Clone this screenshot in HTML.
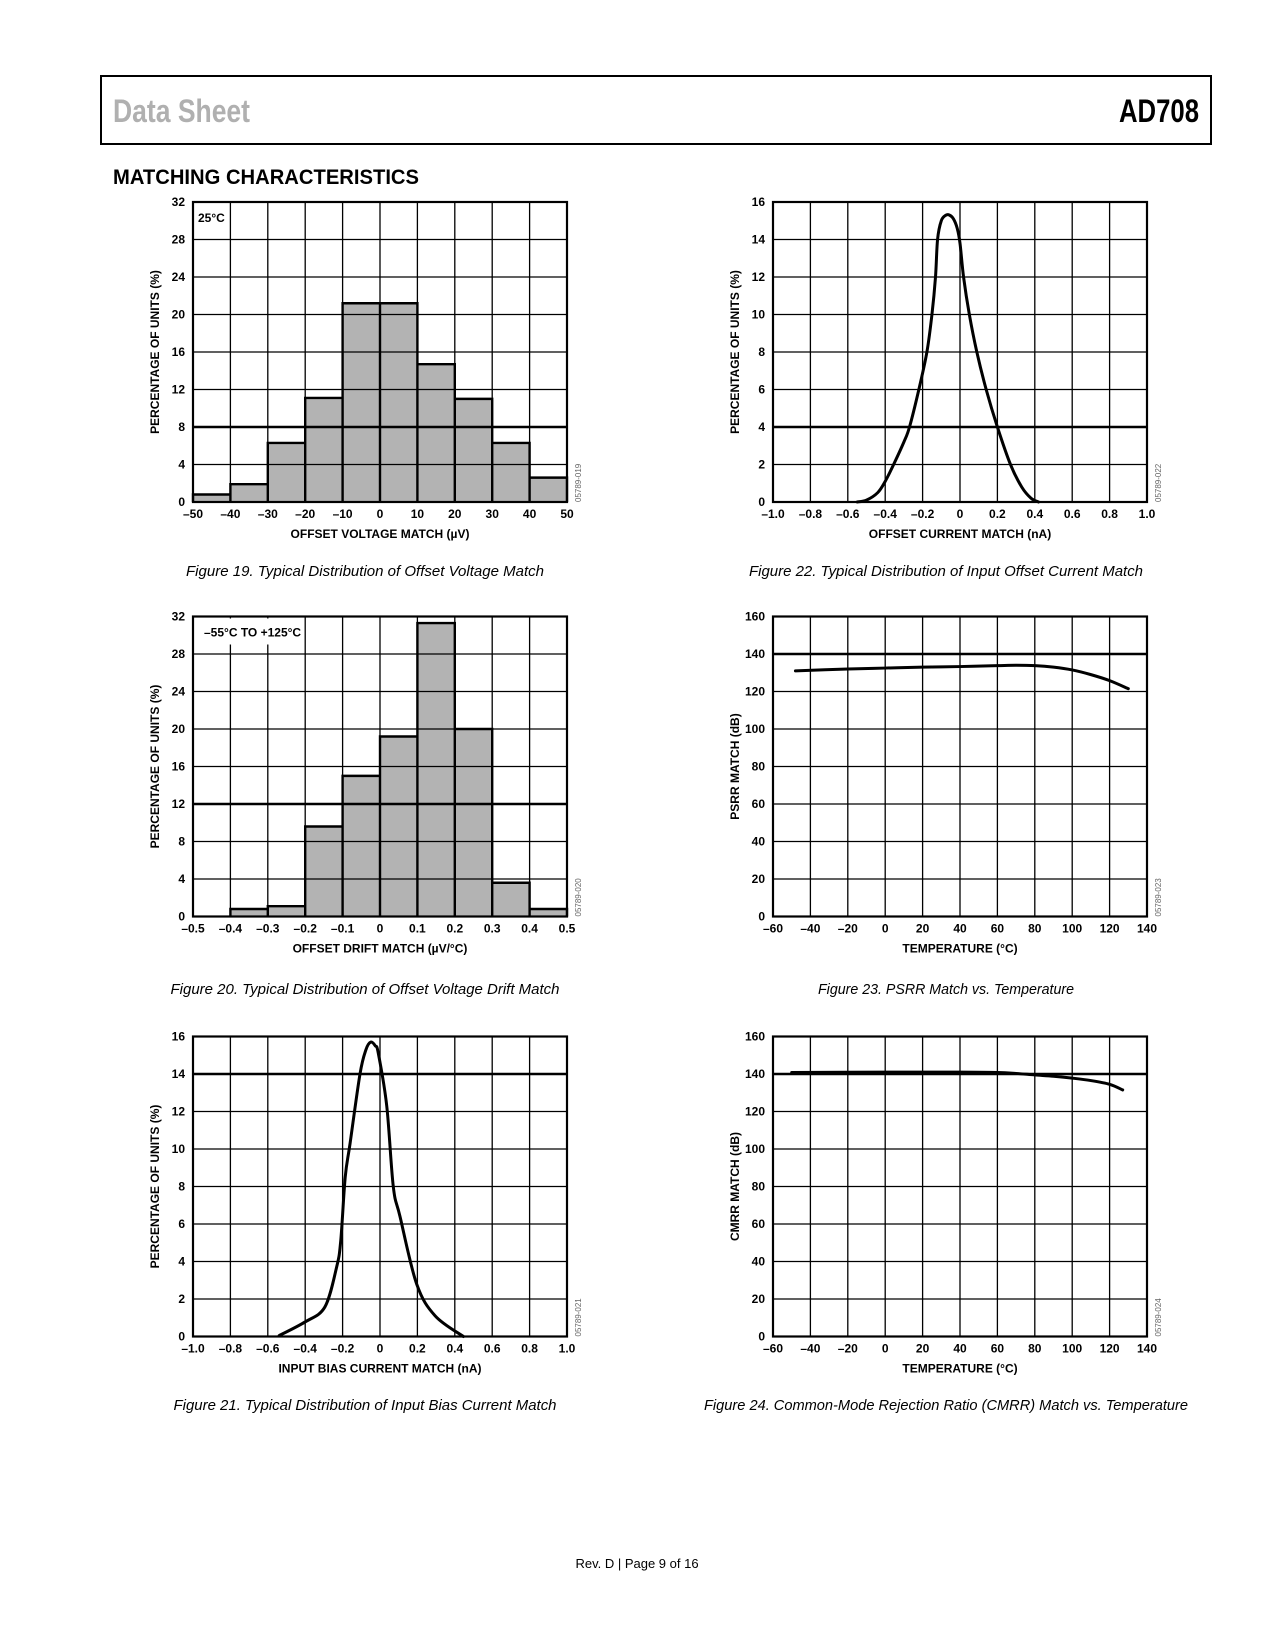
<!DOCTYPE html>
<html><head><meta charset="utf-8">
<style>
html,body{margin:0;padding:0;background:#fff;}
svg{display:block;}
text{font-family:"Liberation Sans",Arial,sans-serif;}
</style></head>
<body>
<svg id="page" width="1275" height="1650" viewBox="0 0 1275 1650" xmlns="http://www.w3.org/2000/svg">
  <rect x="0" y="0" width="1275" height="1650" fill="#fff"/>
  <g>
    <rect x="101" y="76" width="1110" height="68" fill="none" stroke="#000" stroke-width="2"/>
    <text x="113" y="122" font-size="32" font-weight="bold" fill="#b0b0b0" textLength="137" lengthAdjust="spacingAndGlyphs">Data Sheet</text>
    <text x="1119" y="122" font-size="32" font-weight="bold" fill="#000" textLength="80" lengthAdjust="spacingAndGlyphs">AD708</text>
  </g>
  <text x="113" y="184" font-size="21" font-weight="bold" fill="#000" textLength="306" lengthAdjust="spacingAndGlyphs">MATCHING CHARACTERISTICS</text>
  <text x="637" y="1568" font-size="13" text-anchor="middle" fill="#000">Rev. D | Page 9 of 16</text>
  <g id="charts"></g>
</svg>
<script>
// ---- Figure 19 data ----
const f19Bins = [-50,-40,-30,-20,-10,0,10,20,30,40];
const f19Values = [0.8,1.9,6.3,11.1,21.2,21.2,14.7,11.0,6.3,2.6];
const f19XTicks = [-50,-40,-30,-20,-10,0,10,20,30,40,50];
const f19YTicks = [0,4,8,12,16,20,24,28,32];
// ---- Figure 20 data ----
const f20Bins = [-0.5,-0.4,-0.3,-0.2,-0.1,0,0.1,0.2,0.3,0.4];
const f20Values = [0,0.8,1.1,9.6,15.0,19.2,31.3,20.0,3.6,0.8];
const f20XTicks = [-0.5,-0.4,-0.3,-0.2,-0.1,0,0.1,0.2,0.3,0.4,0.5];
const f20YTicks = [0,4,8,12,16,20,24,28,32];
// ---- Figure 21 data ----
const f21X = [-0.539,-0.402,-0.295,-0.232,-0.21,-0.186,-0.16,-0.107,-0.075,-0.05,-0.025,-0.009,0.036,0.071,0.107,0.196,0.295,0.446];
const f21Y = [0.05,0.77,1.57,3.7,5.1,8.5,10.3,14.0,15.3,15.7,15.5,15.1,12.3,8.0,6.4,2.8,1.1,0];
const f21XTicks = [-1.0,-0.8,-0.6,-0.4,-0.2,0,0.2,0.4,0.6,0.8,1.0];
const f21YTicks = [0,2,4,6,8,10,12,14,16];
// ---- Figure 22 data ----
const f22X = [-0.55,-0.5,-0.44,-0.4,-0.355,-0.3,-0.27,-0.22,-0.177,-0.15,-0.131,-0.12,-0.1,-0.075,-0.056,-0.035,-0.015,0,0.019,0.05,0.09,0.14,0.2,0.27,0.33,0.38,0.42];
const f22Y = [0,0.1,0.5,1.1,2,3.2,4,6,8,10,12,14,15,15.3,15.3,15.1,14.6,13.8,12,10,8,6,4,2,0.8,0.2,0];
const f22XTicks = [-1.0,-0.8,-0.6,-0.4,-0.2,0,0.2,0.4,0.6,0.8,1.0];
const f22YTicks = [0,2,4,6,8,10,12,14,16];
// ---- Figure 23 data ----
const f23X = [-48,-20,0,20,40,60,70,80,90,100,110,120,130];
const f23Y = [131,132,132.5,133,133.3,133.8,134,133.8,133,131.5,129,125.8,121.5];
const f23XTicks = [-60,-40,-20,0,20,40,60,80,100,120,140];
const f23YTicks = [0,20,40,60,80,100,120,140,160];
// ---- Figure 24 data ----
const f24X = [-50,0,40,60,70,80,90,100,110,120,127];
const f24Y = [140.8,141,141,140.8,140.3,139.5,138.8,137.8,136.5,134.5,131.5];
const f24XTicks = [-60,-40,-20,0,20,40,60,80,100,120,140];
const f24YTicks = [0,20,40,60,80,100,120,140,160];

const NS = "http://www.w3.org/2000/svg";
const root = document.getElementById('charts');
function mk(tag, attrs, parent){
  const e = document.createElementNS(NS, tag);
  for (const k in attrs) e.setAttribute(k, attrs[k]);
  parent.appendChild(e);
  return e;
}
function fmt(v, dec){
  if (Math.abs(v) < 1e-9) return '0';
  let s = dec ? v.toFixed(dec) : String(v);
  if (v < 0) s = '\u2013' + s.slice(1);
  return s;
}

function chart(c){
  const W = 374, H = 300;
  const g = mk('g', {}, root);
  
  
  const xmin = c.xt[0], xmax = c.xt[c.xt.length-1];
  const ymin = c.yt[0], ymax = c.yt[c.yt.length-1];
  const sx = v => c.L + (v - xmin) / (xmax - xmin) * W;
  const sy = v => c.T + H - (v - ymin) / (ymax - ymin) * H;

  if (c.bins){
    const step = c.bins[1] - c.bins[0];
    c.bins.forEach((b, i) => {
      const v = c.vals[i];
      if (v <= 0) return;
      const r = mk('rect', {x: sx(b), y: sy(v), width: sx(b+step)-sx(b), height: sy(0)-sy(v), fill: '#b3b3b3'}, g);
      
      
    });
  }
  c.xt.forEach(t => { mk('line', {x1: sx(t), x2: sx(t), y1: c.T, y2: c.T+H, stroke: '#000', 'stroke-width': 1.3}, g); });
  c.yt.forEach(t => { mk('line', {x1: c.L, x2: c.L+W, y1: sy(t), y2: sy(t), stroke: '#000', 'stroke-width': t === c.bold ? 2.6 : 1.3}, g); });
  if (c.bins){
    const step = c.bins[1] - c.bins[0];
    let d = '';
    c.bins.forEach((b, i) => {
      const v = c.vals[i];
      if (v <= 0) return;
      d += 'M' + sx(b) + ',' + sy(0) + 'V' + sy(v) + 'H' + sx(b+step) + 'V' + sy(0);
    });
    mk('path', {d: d, fill: 'none', stroke: '#000', 'stroke-width': 2.4}, g);
  }
  if (c.note){
    if (c.noteW) mk('rect', {x: c.L+2, y: c.T+2, width: c.noteW, height: 26, fill: '#fff'}, g);
    const n = mk('text', {x: c.L+c.noteX, y: c.T+20, 'font-size': 12, 'font-weight': 'bold'}, g);
    n.textContent = c.note;
    
    
  }
  if (c.cx){
    const pts = c.cx.map((x, i) => [sx(x), sy(c.cy[i])]);
    let d = 'M' + pts[0][0] + ',' + pts[0][1];
    for (let i = 0; i < pts.length - 1; i++){
      const p0 = pts[Math.max(0,i-1)], p1 = pts[i], p2 = pts[i+1], p3 = pts[Math.min(pts.length-1,i+2)];
      const c1 = [p1[0] + (p2[0]-p0[0])/6, p1[1] + (p2[1]-p0[1])/6];
      const c2 = [p2[0] - (p3[0]-p1[0])/6, p2[1] - (p3[1]-p1[1])/6];
      d += 'C' + c1[0] + ',' + c1[1] + ' ' + c2[0] + ',' + c2[1] + ' ' + p2[0] + ',' + p2[1];
    }
    const p = mk('path', {d: d, fill: 'none', stroke: '#000', 'stroke-width': 3, 'stroke-linejoin': 'round', 'stroke-linecap': 'round'}, g);
    
    
  }
  mk('rect', {x: c.L, y: c.T, width: W, height: H, fill: 'none', stroke: '#000', 'stroke-width': 2.2}, g);
  c.xt.forEach(t => {
    const e = mk('text', {x: sx(t), y: c.T+H+16, 'font-size': 12, 'font-weight': 'bold', 'text-anchor': 'middle'}, g);
    e.textContent = fmt(t, c.xdec);
    
    
  });
  c.yt.forEach(t => {
    const e = mk('text', {x: c.L-8, y: sy(t)+4, 'font-size': 12, 'font-weight': 'bold', 'text-anchor': 'end'}, g);
    e.textContent = fmt(t, 0);
    
    
  });
  const xt = mk('text', {x: c.L + W/2, y: c.T+H+36, 'font-size': 12, 'font-weight': 'bold', 'text-anchor': 'middle'}, g);
  xt.textContent = c.xtitle;
  
  
  const yx = c.L - 34, yy = c.T + H/2;
  const yt = mk('text', {x: yx, y: yy, 'font-size': 12, 'font-weight': 'bold', 'text-anchor': 'middle', transform: 'rotate(-90 ' + yx + ' ' + yy + ')'}, g);
  yt.textContent = c.ytitle;
  
  
  const wx = c.L + W + 14, wy = c.T + H;
  const wm = mk('text', {x: wx, y: wy, 'font-size': 8, fill: '#666', transform: 'rotate(-90 ' + wx + ' ' + wy + ')'}, g);
  wm.textContent = c.code;
  
  
  const cap = mk('text', {x: c.capX, y: c.capY, 'font-size': 15, 'font-style': 'italic', 'text-anchor': 'middle', textLength: c.capW, lengthAdjust: 'spacingAndGlyphs'}, g);
  cap.textContent = c.caption;
  
  
}

chart({name:'figure-19-chart', L:193, T:202, bins:f19Bins, vals:f19Values, xt:f19XTicks, yt:f19YTicks, bold:8, xdec:0,
  note:'25°C', noteW:0, noteX:5, xtitle:'OFFSET VOLTAGE MATCH (µV)', ytitle:'PERCENTAGE OF UNITS (%)', code:'05789-019',
  caption:'Figure 19. Typical Distribution of Offset Voltage Match', capX:365, capY:576, capW:358});
chart({name:'figure-22-chart', L:773, T:202, cx:f22X, cy:f22Y, xt:f22XTicks, yt:f22YTicks, bold:4, xdec:1,
  xtitle:'OFFSET CURRENT MATCH (nA)', ytitle:'PERCENTAGE OF UNITS (%)', code:'05789-022',
  caption:'Figure 22. Typical Distribution of Input Offset Current Match', capX:946, capY:576, capW:394});
chart({name:'figure-20-chart', L:193, T:616.5, bins:f20Bins, vals:f20Values, xt:f20XTicks, yt:f20YTicks, bold:12, xdec:1,
  note:'–55°C TO +125°C', noteW:108, noteX:11, xtitle:'OFFSET DRIFT MATCH (µV/°C)', ytitle:'PERCENTAGE OF UNITS (%)', code:'05789-020',
  caption:'Figure 20. Typical Distribution of Offset Voltage Drift Match', capX:365, capY:994, capW:389});
chart({name:'figure-23-chart', L:773, T:616.5, cx:f23X, cy:f23Y, xt:f23XTicks, yt:f23YTicks, bold:140, xdec:0,
  xtitle:'TEMPERATURE (°C)', ytitle:'PSRR MATCH (dB)', code:'05789-023',
  caption:'Figure 23. PSRR Match vs. Temperature', capX:946, capY:994, capW:256});
chart({name:'figure-21-chart', L:193, T:1036.5, cx:f21X, cy:f21Y, xt:f21XTicks, yt:f21YTicks, bold:14, xdec:1,
  xtitle:'INPUT BIAS CURRENT MATCH (nA)', ytitle:'PERCENTAGE OF UNITS (%)', code:'05789-021',
  caption:'Figure 21. Typical Distribution of Input Bias Current Match', capX:365, capY:1410, capW:383});
chart({name:'figure-24-chart', L:773, T:1036.5, cx:f24X, cy:f24Y, xt:f24XTicks, yt:f24YTicks, bold:140, xdec:0,
  xtitle:'TEMPERATURE (°C)', ytitle:'CMRR MATCH (dB)', code:'05789-024',
  caption:'Figure 24. Common-Mode Rejection Ratio (CMRR) Match vs. Temperature', capX:946, capY:1410, capW:484});
</script>
</body></html>
